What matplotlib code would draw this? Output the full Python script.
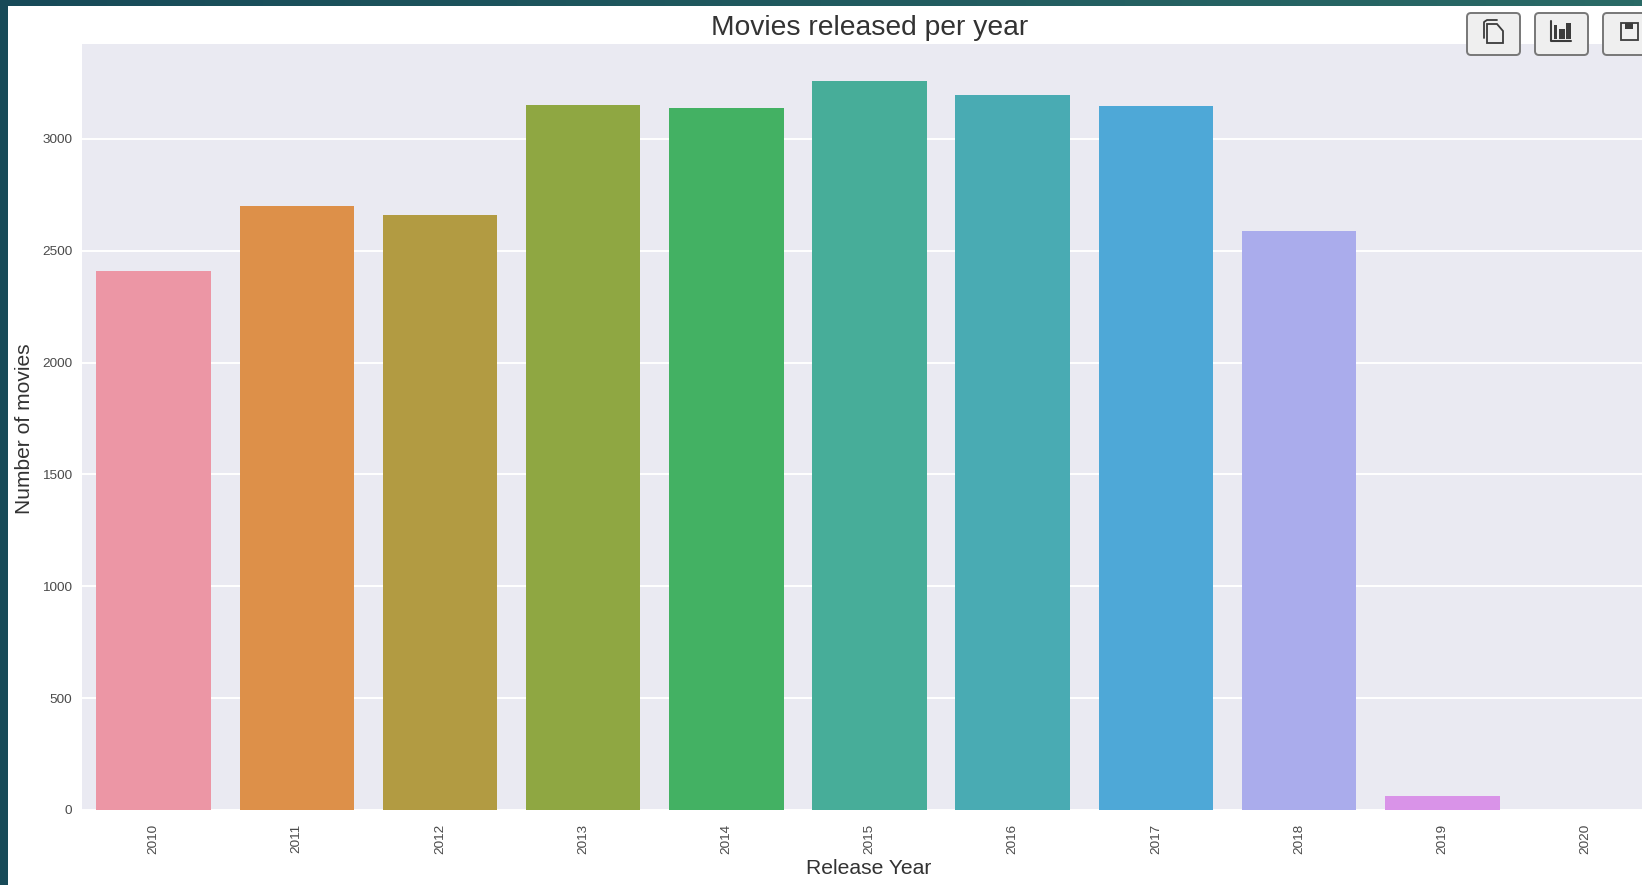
import matplotlib
matplotlib.use('Agg')
import matplotlib.pyplot as plt
from matplotlib.patches import FancyBboxPatch, Polygon, Rectangle
import numpy as np
import seaborn as sns

#################################################
# Data.
years = ['2010', '2011', '2012', '2013', '2014', '2015', '2016', '2017', '2018', '2019', '2020']
movies = [2408, 2698, 2660, 3152, 3138, 3260, 3198, 3147, 2590, 61, 1]
y_ticks = [0, 500, 1000, 1500, 2000, 2500, 3000]
bar_colors = ['#ec96a5', '#dd9049', '#b29b42', '#8fa742', '#43b163', '#47ad99',
              '#49abb3', '#4ea8d7', '#aaacec', '#d993e8', '#ec90cc']

#################################################
# Setup.
W, H = 1642, 885
sns.set_style('darkgrid')
plt.rcParams['font.family'] = ['Liberation Sans', 'DejaVu Sans']
text_color = '#333333'

fig = plt.figure(figsize=(W / 100, H / 100), dpi=100)
fig.patch.set_facecolor('white')

# the plot runs off the right side of the screenshot
left, right, top, bottom = 82, 1657, 44, 810
ax = fig.add_axes([left / W, 1 - bottom / H, (right - left) / W, (bottom - top) / H])

ax.bar(np.arange(len(years)), movies, width=0.8, color=bar_colors, linewidth=0, zorder=3)

ax.set_xlim(-0.5, len(years) - 0.5)
ax.set_ylim(0, 3424)
ax.set_yticks(y_ticks)
ax.set_xticks(np.arange(len(years)))
ax.set_xticklabels(years, rotation=90)
ax.tick_params(axis='both', labelsize=9.7, labelcolor='#4a4a4a', length=0)
ax.tick_params(axis='x', pad=10)
ax.tick_params(axis='y', pad=7)
ax.grid(axis='x', visible=False)
ax.grid(axis='y', color='white', linewidth=1.4, zorder=1)
for spine in ax.spines.values():
    spine.set_visible(False)

fig.text(870 / W, 1 - 28 / H, 'Movies released per year', ha='center', va='center',
         fontsize=20.3, color=text_color)
fig.text(869 / W, 1 - 869 / H, 'Release Year', ha='center', va='center',
         fontsize=15.2, color=text_color)
fig.text(24 / W, 1 - 429 / H, 'Number of movies', ha='center', va='center',
         rotation=90, fontsize=15.1, color=text_color)

#################################################
# Window frame and toolbar, in pixel coordinates.
overlay = fig.add_axes([0, 0, 1, 1], zorder=10)
overlay.axis('off')
overlay.patch.set_alpha(0)

gradient = np.linspace(0, 1, 200)[None, :]
cmap = matplotlib.colors.LinearSegmentedColormap.from_list('frame', ['#174a58', '#2a6a66'])
overlay.imshow(gradient, extent=(0, W, 6, 0), cmap=cmap, aspect='auto')
overlay.set_xlim(0, W)
overlay.set_ylim(H, 0)
overlay.add_patch(Rectangle((0, 0), 8, H, color='#174a58', lw=0))

for x0, x1 in [(1467, 1520), (1535, 1588), (1603, 1660)]:
    overlay.add_patch(FancyBboxPatch((x0 + 3, 16), x1 - x0 - 6, 36,
                                     boxstyle='round,pad=3,rounding_size=4',
                                     facecolor='#efefef', edgecolor='#777777', lw=1.4))

icon = '#3c3c3c'
# copy
overlay.plot([1484, 1484, 1487, 1497], [38, 22, 20, 20], color=icon, lw=1.3)
overlay.add_patch(Polygon([(1487, 24), (1497, 24), (1503, 31), (1503, 43), (1487, 43)],
                          facecolor='none', edgecolor=icon, lw=1.3))
# bars
overlay.plot([1551, 1551, 1571], [21, 41, 41], color=icon, lw=1.5)
overlay.add_patch(Rectangle((1553.5, 25), 3, 14, color=icon, lw=0))
overlay.add_patch(Rectangle((1559, 29), 5.5, 10, color=icon, lw=0))
overlay.add_patch(Rectangle((1566, 23), 5, 16, color=icon, lw=0))
# save
overlay.add_patch(Rectangle((1621, 23), 17, 17, facecolor='none', edgecolor=icon, lw=1.3))
overlay.add_patch(Rectangle((1625, 23), 8, 6, color=icon, lw=0))

fig.savefig('out.png', dpi=100, facecolor='white')
